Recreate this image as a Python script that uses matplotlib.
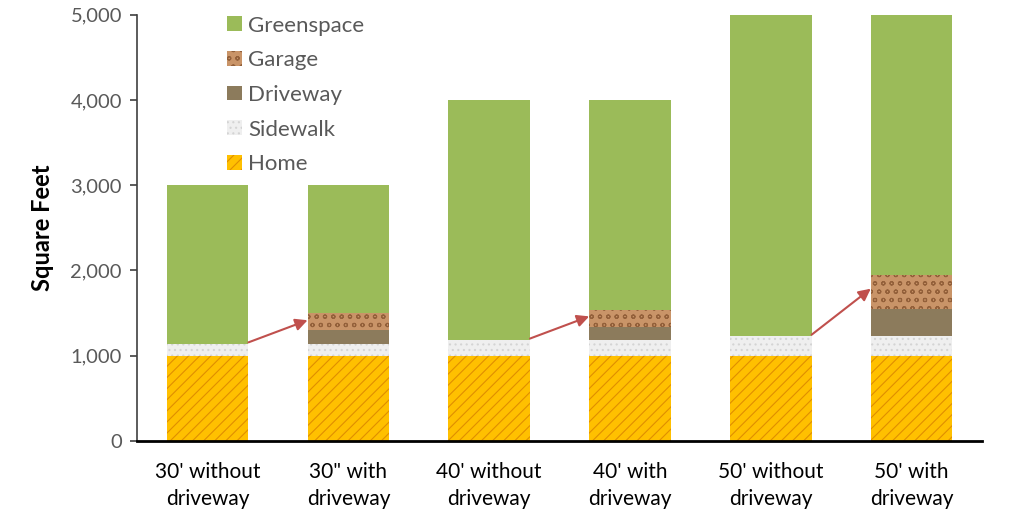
import matplotlib.pyplot as plt
import numpy as np
from matplotlib.ticker import FuncFormatter

plt.rcParams['font.family'] = ['Lato', 'DejaVu Sans']
plt.rcParams['hatch.linewidth'] = 0.8

# data
categories = ["30' without\ndriveway", "30\" with\ndriveway", "40' without\ndriveway",
              "40' with\ndriveway", "50' without\ndriveway", "50' with\ndriveway"]
home = [1000, 1000, 1000, 1000, 1000, 1000]
sidewalk = [135, 135, 180, 180, 225, 225]
driveway = [0, 160, 0, 160, 0, 320]
garage = [0, 200, 0, 200, 0, 400]
lot_total = [3000, 3000, 4000, 4000, 5000, 5000]
greenspace = [t - h - s - d - g for t, h, s, d, g in zip(lot_total, home, sidewalk, driveway, garage)]

fig = plt.figure(figsize=(10.24, 5.26), dpi=100)
ax = fig.add_axes([0.134, 0.162, 0.825, 0.81])

x = np.arange(len(categories))
w = 0.58
bottom = np.zeros(len(categories))

# stacked layers (bottom to top)
layers = [
    ('Home', home, dict(color='#FFC000', edgecolor='#E08E00', hatch='///')),
    ('Sidewalk', sidewalk, dict(color='#EFEFEF', edgecolor='#D4D4D4', hatch='...')),
    ('Driveway', driveway, dict(color='#8C7B5C')),
    ('Garage', garage, dict(color='#C99468', edgecolor='#93603A', hatch='oo')),
    ('Greenspace', greenspace, dict(color='#9BBB59')),
]
handles = {}
for name, vals, style in layers:
    face = style.pop('color')
    bars = ax.bar(x, vals, w, bottom=bottom, facecolor=face, linewidth=0, **style)
    handles[name] = bars
    bottom += np.array(vals)

# arrows from lots without driveway to lots with driveway
for i in [0, 2, 4]:
    start_y = home[i] + sidewalk[i] + 20
    end_y = home[i + 1] + sidewalk[i + 1] + driveway[i + 1] + 0.6 * garage[i + 1]
    ax.annotate('', xy=(x[i + 1] - w / 2, end_y), xytext=(x[i] + w / 2, start_y),
                arrowprops=dict(arrowstyle='-|>', color='#C0504D', lw=1.5,
                                mutation_scale=18, shrinkA=0, shrinkB=0))

ax.set_xlim(-0.5, len(categories) - 0.5)
ax.set_ylim(0, 5000)
ax.set_yticks(range(0, 5001, 1000))
ax.yaxis.set_major_formatter(FuncFormatter(lambda v, p: f'{int(v):,}'))
ax.set_xticks(x)
ax.set_xticklabels(categories, fontsize=15, color='black', linespacing=1.45)
ax.tick_params(axis='x', length=0, pad=15)
ax.tick_params(axis='y', labelsize=14.5, labelcolor='#595959', length=5, width=1.2,
               color='#404040', pad=6)
ax.set_ylabel('Square Feet', fontsize=17, fontweight='bold', labelpad=12)

for s in ['top', 'right']:
    ax.spines[s].set_visible(False)
ax.spines['left'].set_color('#404040')
ax.spines['left'].set_linewidth(1.2)
ax.spines['bottom'].set_color('black')
ax.spines['bottom'].set_linewidth(2)

order = ['Greenspace', 'Garage', 'Driveway', 'Sidewalk', 'Home']
leg = ax.legend([handles[n] for n in order], order, loc='upper left',
                bbox_to_anchor=(0.083, 1.045), frameon=False, fontsize=16,
                labelcolor='#595959', handlelength=0.65, handleheight=0.65,
                handletextpad=0.3, labelspacing=0.66)

fig.savefig('out.png', dpi=100)
